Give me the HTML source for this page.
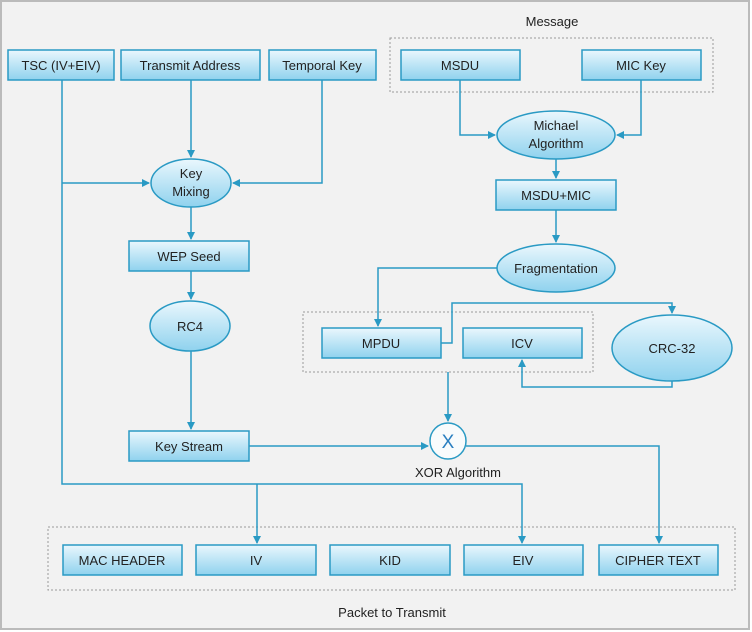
<!DOCTYPE html>
<html><head><meta charset="utf-8"><style>
html,body{margin:0;padding:0;background:#fff;}
svg{display:block;}
text{font-family:"Liberation Sans",sans-serif;font-size:13px;fill:#222;text-anchor:middle;}
</style></head><body>
<svg width="752" height="632" viewBox="0 0 752 632" xmlns="http://www.w3.org/2000/svg">
<defs>
<linearGradient id="g" x1="0" y1="0" x2="0" y2="1">
<stop offset="0" stop-color="#eaf7fd"/><stop offset="1" stop-color="#8fd2ee"/></linearGradient>
<marker id="a" markerWidth="8" markerHeight="8" refX="7" refY="4" orient="auto" markerUnits="userSpaceOnUse">
<path d="M0,0 L8,4 L0,8 z" fill="#2a9ac4"/></marker>
</defs>
<rect x="1" y="1" width="748" height="628" fill="#f2f2f2" stroke="#bbb" stroke-width="2"/>
<g fill="none" stroke="#999" stroke-dasharray="2,2">
<rect x="390" y="38" width="323" height="54"/>
<rect x="303" y="312" width="290" height="60"/>
<rect x="48" y="527" width="687" height="63"/>
</g>
<g fill="none" stroke="#2a9ac4" stroke-width="1.5">
<path d="M62,80 V484 H522 V543" marker-end="url(#a)"/>
<path d="M62,183 H149" marker-end="url(#a)"/>
<path d="M257,484 V543" marker-end="url(#a)"/>
<path d="M191,80 V157" marker-end="url(#a)"/>
<path d="M322,80 V183 H233" marker-end="url(#a)"/>
<path d="M191,207 V239" marker-end="url(#a)"/>
<path d="M191,271 V299" marker-end="url(#a)"/>
<path d="M191,351 V429" marker-end="url(#a)"/>
<path d="M460,80 V135 H495" marker-end="url(#a)"/>
<path d="M641,80 V135 H617" marker-end="url(#a)"/>
<path d="M556,159 V178" marker-end="url(#a)"/>
<path d="M556,210 V242" marker-end="url(#a)"/>
<path d="M497,268 H378 V326" marker-end="url(#a)"/>
<path d="M441,343 H452 V303 H672 V313" marker-end="url(#a)"/>
<path d="M672,381 V387 H522 V360" marker-end="url(#a)"/>
<path d="M448,372 V421" marker-end="url(#a)"/>
<path d="M249,446 H428" marker-end="url(#a)"/>
<path d="M466,446 H659 V543" marker-end="url(#a)"/>
</g>
<g fill="url(#g)" stroke="#2a9ac4" stroke-width="1.5">
<rect x="8" y="50" width="106" height="30"/>
<rect x="121" y="50" width="139" height="30"/>
<rect x="269" y="50" width="107" height="30"/>
<rect x="401" y="50" width="119" height="30"/>
<rect x="582" y="50" width="119" height="30"/>
<rect x="129" y="241" width="120" height="30"/>
<rect x="129" y="431" width="120" height="30"/>
<rect x="496" y="180" width="120" height="30"/>
<rect x="322" y="328" width="119" height="30"/>
<rect x="463" y="328" width="119" height="30"/>
<rect x="63" y="545" width="119" height="30"/>
<rect x="196" y="545" width="120" height="30"/>
<rect x="330" y="545" width="120" height="30"/>
<rect x="464" y="545" width="119" height="30"/>
<rect x="599" y="545" width="119" height="30"/>
<ellipse cx="191" cy="183" rx="40" ry="24"/>
<ellipse cx="190" cy="326" rx="40" ry="25"/>
<ellipse cx="556" cy="135" rx="59" ry="24"/>
<ellipse cx="556" cy="268" rx="59" ry="24"/>
<ellipse cx="672" cy="348" rx="60" ry="33"/>
</g>
<circle cx="448" cy="441" r="18" fill="#f8fbfc" stroke="#2a9ac4" stroke-width="1.5"/>
<text x="448" y="448" style="font-size:19px;fill:#2a7fc0">X</text>
<text x="552" y="26">Message</text>
<text x="61" y="70">TSC (IV+EIV)</text>
<text x="190" y="70">Transmit Address</text>
<text x="322" y="70">Temporal Key</text>
<text x="460" y="70">MSDU</text>
<text x="641" y="70">MIC Key</text>
<text x="191" y="178">Key</text>
<text x="191" y="196">Mixing</text>
<text x="556" y="130">Michael</text>
<text x="556" y="148">Algorithm</text>
<text x="556" y="200">MSDU+MIC</text>
<text x="556" y="273">Fragmentation</text>
<text x="189" y="261">WEP Seed</text>
<text x="190" y="331">RC4</text>
<text x="381" y="348">MPDU</text>
<text x="522" y="348">ICV</text>
<text x="672" y="353">CRC-32</text>
<text x="189" y="451">Key Stream</text>
<text x="458" y="477">XOR Algorithm</text>
<text x="122" y="565">MAC HEADER</text>
<text x="256" y="565">IV</text>
<text x="390" y="565">KID</text>
<text x="523" y="565">EIV</text>
<text x="658" y="565">CIPHER TEXT</text>
<text x="392" y="617">Packet to Transmit</text>
</svg>
</body></html>
